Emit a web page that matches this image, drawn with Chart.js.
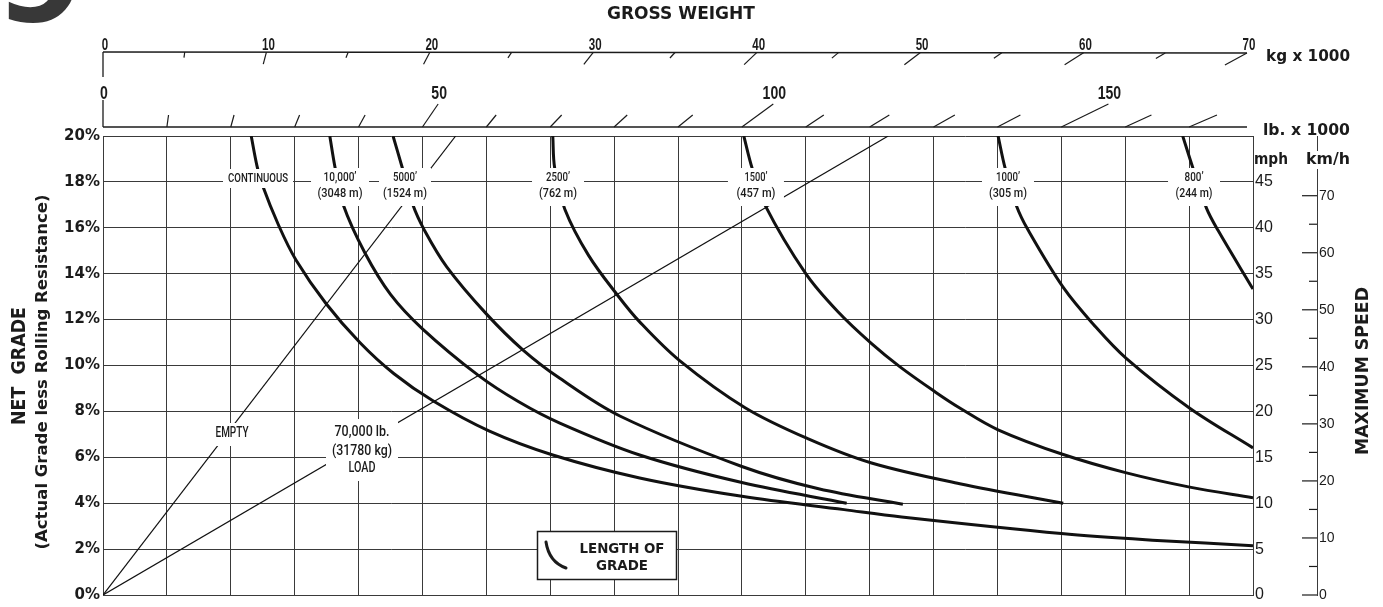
<!DOCTYPE html>
<html><head><meta charset="utf-8">
<script src="https://cdn.jsdelivr.net/npm/chart.js@4.4.1/dist/chart.umd.min.js"></script>
<style>html,body{margin:0;padding:0;background:#fff;overflow:hidden}canvas{display:block}</style>
</head><body>
<canvas id="c" width="1383" height="607"></canvas>
<script>
// ---------------- DATA (gross weight in lb x 1000, net grade in %) ----------------
const CONT_W  = [23.2,24.1,24.9,27.5,30.2,34.9,40.2,45.5,51.7,60.4,70.4,84,100,116,125,150,165,180];
const CONT_G  = [20,18.7,17.9,16.1,14.6,12.7,11.0,9.65,8.45,7.15,6.1,5.1,4.3,3.72,3.4,2.68,2.38,2.15];
const F10000_W = [35.5,36.3,37.6,41.0,45,50,58.7,65,71.5,84,100,116.4];
const F10000_G = [20,18.66,17.0,14.9,13.1,11.6,9.58,8.43,7.49,6.1,4.9,4.0];
const F5000_W = [45.4,46.8,48.5,50.3,53.8,60,65.8,71.5,80.9,100,112,125.2];
const F5000_G = [20,18.66,17.0,15.9,14.3,12.25,10.66,9.44,7.8,5.6,4.63,3.95];
const F2500_W = [70.4,70.7,72.3,76,80.6,84,90.3,100.5,110.4,120.3,134.1,150.3];
const F2500_G = [20,18.6,16.8,14.8,13.04,11.9,10.2,8.16,6.8,5.75,4.85,4.0];
const F1500_W = [100.3,101.6,103.6,110,115,120.3,124.7,130.2,134.1,140.1,150.3,160.2,170.1,180];
const F1500_G = [20,18.6,17.0,14.0,12.35,10.95,9.95,8.86,8.15,7.2,6.12,5.32,4.7,4.24];
const F1000_W = [140.1,141.2,143.0,144.8,150.3,155,160.2,170.1,180];
const F1000_G = [20,18.6,16.94,15.9,13.4,11.8,10.3,8.14,6.41];
const F800_W  = [169.0,170.6,172.7,174.5,180];
const F800_G  = [20,18.6,16.87,15.9,13.33];
const EMPTY_W = [0,55.2];  const EMPTY_G = [0,20];
const LOAD_W  = [0,122.9]; const LOAD_G  = [0,20];

const CURVE_NAMES = [["CONTINUOUS"],["10,000’","(3048 m)"],["5000’","(1524 m)"],["2500’","(762 m)"],["1500’","(457 m)"],["1000’","(305 m)"],["800’","(244 m)"]];
const LINE_NAMES  = [["EMPTY"],["70,000 lb.","(31780 kg)","LOAD"]];
const LB_TICKS  = [0,10,20,30,40,50,60,70,80,90,100,110,120,130,140,150,160,170];
const LB_LABELS = [0,50,100,150];
const KG_TICKS  = [0,5,10,15,20,25,30,35,40,45,50,55,60,65,70];
const KG_LABELS = [0,10,20,30,40,50,60,70];
const MPH_LABELS = [0,5,10,15,20,25,30,35,40,45];
const KMH_LABELS = [0,10,20,30,40,50,60,70];
const KMH_TICKS  = [0,5,10,15,20,25,30,35,40,45,50,55,60,65,70];

// ---------------- STYLE / LAYOUT ----------------
const INK = '#1b1b1b', GRID = '#3a3a3a';
const CURVE_LABEL_AT = [24.26, 37.10, 47.27, 71.22, 102.2, 141.65, 170.77]; // label centres (lb x 1000)
const CURVE_LABEL_W  = [[60],[33,45],[24,44],[24,38],[23,39],[24,38],[19,37]];
const CURVE_MASK_HALF = [35,29,26,26,28,26,26];

function pts(W, G){ return W.map((w,i)=>({x:w, y:G[i]})); }
function heavy(W,G){ return {data:pts(W,G), showLine:true, borderColor:'#111', borderWidth:3, pointRadius:0, fill:false, tension:0.35, borderCapStyle:'butt', borderJoinStyle:'round'}; }
function thin(W,G){ return {data:pts(W,G), showLine:true, borderColor:'#111', borderWidth:1.2, pointRadius:0, fill:false, tension:0}; }

function txt(ctx, s, x, y, font, opt){
  opt = opt || {};
  ctx.save();
  ctx.font = font;
  ctx.fillStyle = opt.color || INK;
  ctx.textBaseline = 'middle';
  ctx.textAlign = opt.align || 'center';
  ctx.translate(x, y);
  if (opt.rot) ctx.rotate(opt.rot);
  let sx = opt.sx || 1;
  if (opt.w) sx = opt.w / ctx.measureText(s).width;
  ctx.scale(sx, 1);
  ctx.fillText(s, 0, 0);
  ctx.restore();
}
function seg(ctx, x1, y1, x2, y2){ ctx.beginPath(); ctx.moveTo(x1,y1); ctx.lineTo(x2,y2); ctx.stroke(); }
function mask(ctx, l, t, r, b){ ctx.fillStyle = '#fff'; ctx.fillRect(l, t, r-l, b-t); }

const decor = {
  id: 'decor',
  beforeDraw(chart){ const c = chart.ctx; c.save(); c.fillStyle = '#fff'; c.fillRect(0,0,chart.width,chart.height); c.restore(); },
  afterDatasetsDraw(chart){
    const ctx = chart.ctx, xs = chart.scales.x, ys = chart.scales.y, ks = chart.scales.xkg, kmh = chart.scales.kmh;
    const X = v => xs.getPixelForValue(v), Y = v => ys.getPixelForValue(v), K = v => ks.getPixelForValue(v);
    const x0 = X(0), y0 = Y(0);
    ctx.save();
    ctx.strokeStyle = INK; ctx.lineCap = 'butt';

    // ---- curve labels on the 18% line ----
    const cFont = '500 12px Roboto';
    CURVE_NAMES.forEach((lines, i) => {
      const cx = X(CURVE_LABEL_AT[i]);
      const h = CURVE_MASK_HALF[i];
      if (lines.length === 1) {
        mask(ctx, cx-h, 169, cx+h, 188);
        txt(ctx, lines[0], cx, 179, cFont, {w: CURVE_LABEL_W[i][0]});
      } else {
        mask(ctx, cx-h, 168, cx+h, 206);
        txt(ctx, lines[0], cx, 178, cFont, {w: CURVE_LABEL_W[i][0]});
        txt(ctx, lines[1], cx, 194, cFont, {w: CURVE_LABEL_W[i][1]});
      }
    });

    // ---- EMPTY / LOAD labels ----
    const lFont = '500 14px Roboto';
    mask(ctx, 212, 423, 251, 446);
    txt(ctx, LINE_NAMES[0][0], 232, 433, lFont, {w:33});
    mask(ctx, 326, 419, 398, 481);
    txt(ctx, LINE_NAMES[1][0], 362, 432, lFont, {w:55});
    txt(ctx, LINE_NAMES[1][1], 362, 451, lFont, {w:60});
    txt(ctx, LINE_NAMES[1][2], 362, 468, lFont, {w:27});

    // ---- LENGTH OF GRADE key ----
    mask(ctx, 537, 531, 677, 580);
    ctx.lineWidth = 1.5; ctx.strokeRect(537.5, 531.5, 139, 48);
    ctx.lineWidth = 3; ctx.lineCap = 'round';
    ctx.beginPath(); ctx.moveTo(546, 542); ctx.quadraticCurveTo(549, 562, 566, 568); ctx.stroke();
    ctx.lineCap = 'butt';
    txt(ctx, 'LENGTH OF', 622, 549, 'bold 14px "DejaVu Sans"', {w:85});
    txt(ctx, 'GRADE', 622, 566, 'bold 14px "DejaVu Sans"', {w:52});

    // ---- top kg axis ----
    ctx.lineWidth = 1.3;
    const kEnd = K(70);
    seg(ctx, x0, 52, kEnd, 53);
    seg(ctx, x0, 52, x0, 77);
    ctx.lineWidth = 1.2;
    KG_TICKS.forEach(v => {
      if (!v) return;
      const px = K(v), py = 52 + (px-x0)/(kEnd-x0);
      const L = v % 10 === 0 ? 12 : 5.5;
      seg(ctx, px, py, px - (px-x0)*L/(676-py), py + L);
    });
    KG_LABELS.forEach(v => txt(ctx, String(v), K(v)+2, 45, 'bold 17px "Liberation Sans"', {sx:0.68}));

    // ---- top lb axis ----
    ctx.lineWidth = 1.3;
    seg(ctx, x0, 127, X(180)-6, 127);
    seg(ctx, x0, 100, x0, 127);
    ctx.lineWidth = 1.2;
    LB_TICKS.forEach(v => {
      if (!v) return;
      const px = X(v), L = LB_LABELS.includes(v) ? 23 : 12;
      seg(ctx, px, 127, px + (px-x0)*L/(y0-127), 127 - L);
    });
    LB_LABELS.forEach(v => {
      const px = X(v), L = v ? 23 : 0;
      txt(ctx, String(v), px + (px-x0)*L/(y0-127) + 1, 94, 'bold 19px "Liberation Sans"', {sx:0.74});
    });

    // ---- km/h ticks (inward) ----
    ctx.lineWidth = 1.2;
    const ax = kmh.left;
    KMH_TICKS.forEach(v => {
      const py = kmh.getPixelForValue(v);
      const L = v % 10 === 0 ? 15 : 8;
      seg(ctx, ax - L, py, ax, py);
    });

    // ---- titles and units ----
    const tFont = 'bold 16px "DejaVu Sans"';
    txt(ctx, 'GROSS WEIGHT', 681, 15, 'bold 17px "DejaVu Sans"', {w:148});
    txt(ctx, 'kg x 1000', 1266, 57, tFont, {w:84, align:'left'});
    txt(ctx, 'lb. x 1000', 1263, 131, tFont, {w:87, align:'left'});
    txt(ctx, 'mph', 1254, 160, tFont, {w:34, align:'left'});
    mask(ctx, 1303, 151, 1353, 169);
    txt(ctx, 'km/h', 1306, 160, tFont, {w:44, align:'left'});
    txt(ctx, 'MAXIMUM SPEED', 1364, 371, 'bold 17px "DejaVu Sans"', {w:168, rot:-Math.PI/2});
    txt(ctx, 'NET  GRADE', 20, 366, 'bold 19px "DejaVu Sans"', {w:118, rot:-Math.PI/2});
    txt(ctx, '(Actual Grade less Rolling Resistance)', 42.5, 372, 'bold 16px "DejaVu Sans"', {w:355, rot:-Math.PI/2});

    // ---- chapter mark (top-left) ----
    ctx.font = 'bold 128px "DejaVu Sans"';
    ctx.fillStyle = '#383838'; ctx.textAlign = 'right'; ctx.textBaseline = 'alphabetic';
    ctx.fillText('9', 85, 21);
    ctx.restore();
  }
};

new Chart(document.getElementById('c'), {
  type: 'scatter',
  data: { datasets: [
    heavy(CONT_W, CONT_G), heavy(F10000_W, F10000_G), heavy(F5000_W, F5000_G), heavy(F2500_W, F2500_G),
    heavy(F1500_W, F1500_G), heavy(F1000_W, F1000_G), heavy(F800_W, F800_G),
    thin(EMPTY_W, EMPTY_G), thin(LOAD_W, LOAD_G)
  ]},
  options: {
    responsive: false, animation: false, devicePixelRatio: 1,
    layout: { padding: { top: 136, left: 0, right: 0, bottom: 0 } },
    plugins: { legend: {display:false}, tooltip: {enabled:false} },
    scales: {
      x: { type:'linear', position:'bottom', min:0, max:180,
           ticks:{display:false, stepSize:10, maxTicksLimit:40},
           grid:{color:GRID, lineWidth:1, drawTicks:false},
           border:{display:true, color:GRID, width:1},
           afterFit(s){ s.height = 9; } },
      xkg: { type:'linear', position:'top', display:false, min:0, max:70.37 },
      y: { type:'linear', position:'left', min:0, max:20,
           ticks:{stepSize:2, maxTicksLimit:40, callback:v => v + '%', color:INK, padding:3,
                  font:{family:'"DejaVu Sans"', size:15, weight:'bold'}},
           grid:{color:GRID, lineWidth:1, drawTicks:false},
           border:{display:true, color:GRID, width:1},
           afterFit(s){ s.width = 103; } },
      mph: { type:'linear', position:'right', weight:0, min:0, max:50,
           ticks:{stepSize:5, maxTicksLimit:40, callback:v => MPH_LABELS.includes(v) ? String(v) : '', color:INK, padding:2,
                  font:{family:'"Liberation Sans Narrow", "Liberation Sans"', size:16}},
           grid:{drawOnChartArea:false, drawTicks:false},
           border:{display:true, color:GRID, width:1},
           afterFit(s){ s.width = 64; } },
      kmh: { type:'linear', position:'right', weight:1, min:0, max:50*1.609344,
           ticks:{stepSize:5, maxTicksLimit:40, includeBounds:false, callback:v => KMH_LABELS.includes(v) ? String(v) : '', color:INK, padding:2,
                  font:{family:'"Liberation Sans Narrow", "Liberation Sans"', size:14}},
           grid:{drawOnChartArea:false, drawTicks:false},
           border:{display:true, color:GRID, width:1},
           afterFit(s){ s.width = 66; } }
    }
  },
  plugins: [decor]
});
</script>
</body></html>
